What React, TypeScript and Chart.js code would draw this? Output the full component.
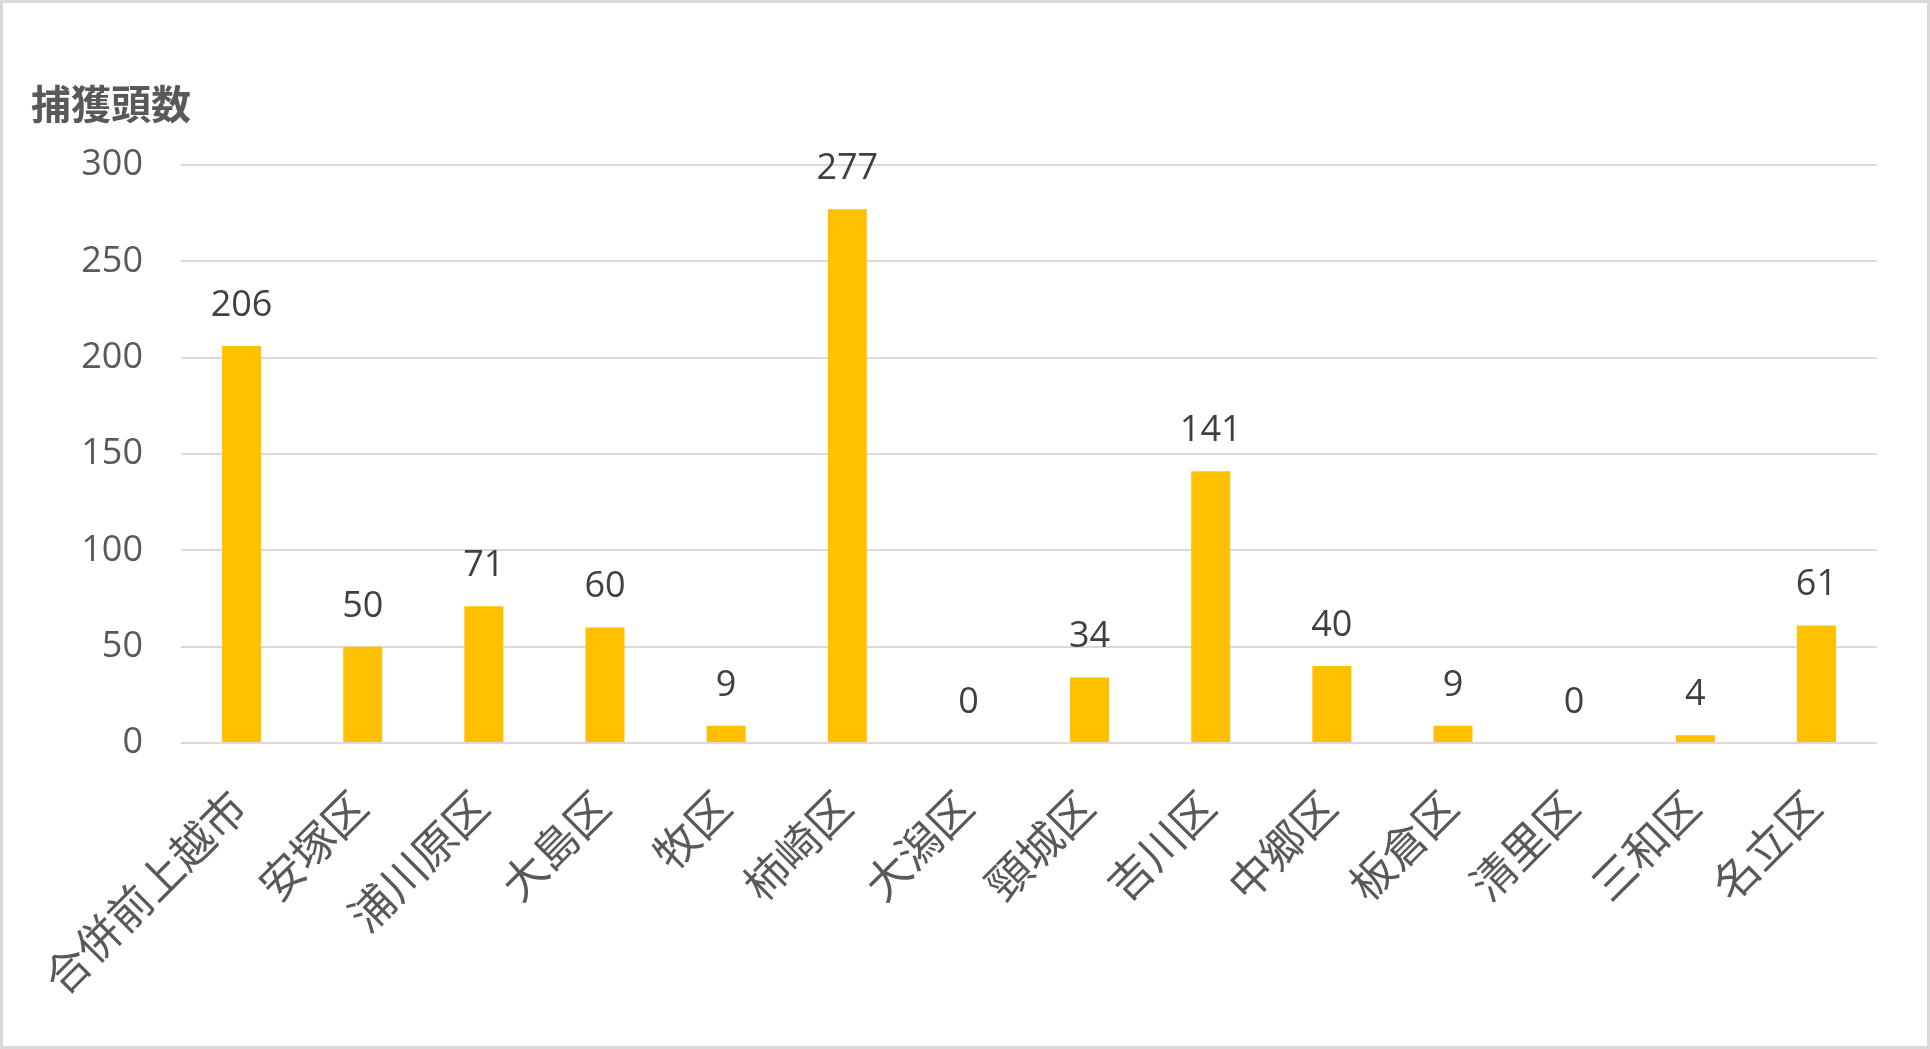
import React, { useEffect, useRef } from "react";
import { Chart, registerables } from "chart.js";

Chart.register(...registerables);

const categories = [
  "合併前上越市", "安塚区", "浦川原区", "大島区", "牧区", "柿崎区", "大潟区",
  "頸城区", "吉川区", "中郷区", "板倉区", "清里区", "三和区", "名立区",
];
const captures = [206, 50, 71, 60, 9, 277, 0, 34, 141, 40, 9, 0, 4, 61];
const yTickMin = 0;
const yTickMax = 300;
const yTickStep = 50;
const yAxisTitle = "捕獲頭数";

const FONT = "'Open Sans', 'Noto Sans CJK JP', sans-serif";

export default function App() {
  const canvasRef = useRef<HTMLCanvasElement | null>(null);

  useEffect(() => {
    const canvas = canvasRef.current;
    if (!canvas) return;

    const labelPlugin = {
      id: "valueLabels",
      afterDatasetsDraw(chart: any) {
        const ctx = chart.ctx;
        const meta = chart.getDatasetMeta(0);
        ctx.save();
        ctx.font = `36px ${FONT}`;
        ctx.fillStyle = "#404040";
        ctx.textAlign = "center";
        ctx.textBaseline = "alphabetic";
        meta.data.forEach((bar: any, i: number) => {
          ctx.fillText(String(captures[i]), bar.x, bar.y - 30);
        });
        ctx.restore();
      },
      afterDraw(chart: any) {
        const ctx = chart.ctx;
        ctx.save();
        ctx.font = `bold 40px ${FONT}`;
        ctx.fillStyle = "#595959";
        ctx.textAlign = "left";
        ctx.textBaseline = "middle";
        ctx.fillText(yAxisTitle, 31, 108);
        ctx.restore();
      },
    };

    const chart = new Chart(canvas, {
      type: "bar",
      data: {
        labels: categories,
        datasets: [
          {
            data: captures,
            backgroundColor: "#FFC000",
            borderWidth: 0,
            categoryPercentage: 1,
            barPercentage: 0.322,
          },
        ],
      },
      options: {
        responsive: false,
        animation: false,
        layout: { padding: { left: 0, top: 165, right: 53, bottom: 0 } },
        plugins: {
          legend: { display: false },
          tooltip: { enabled: false },
          title: { display: false },
        },
        scales: {
          x: {
            grid: { display: false, drawTicks: false },
            border: { display: false },
            ticks: {
              font: { family: FONT, size: 44 },
              color: "#595959",
              minRotation: 45,
              maxRotation: 45,
              padding: 40,
              autoSkip: false,
            },
            afterFit(scale: any) {
              scale.height = 1049 - 743;
            },
          },
          y: {
            min: yTickMin,
            max: yTickMax,
            grid: { color: "#d9d9d9", lineWidth: 2, drawTicks: false },
            border: { display: false },
            ticks: {
              stepSize: yTickStep,
              font: { family: FONT, size: 36 },
              color: "#595959",
              padding: 38,
            },
            afterFit(scale: any) {
              scale.width = 181;
            },
          },
        },
      },
      plugins: [labelPlugin],
    });

    return () => chart.destroy();
  }, []);

  return (
    <div
      style={{
        position: "fixed",
        left: 0,
        top: 0,
        width: 1930,
        height: 1049,
        background: "#ffffff",
      }}
    >
      <canvas ref={canvasRef} width={1930} height={1049} style={{ display: "block" }} />
      <div
        style={{
          position: "absolute",
          left: 0,
          top: 0,
          width: 1930,
          height: 1049,
          boxSizing: "border-box",
          border: "3px solid #d9d9d9",
          pointerEvents: "none",
        }}
      />
    </div>
  );
}
